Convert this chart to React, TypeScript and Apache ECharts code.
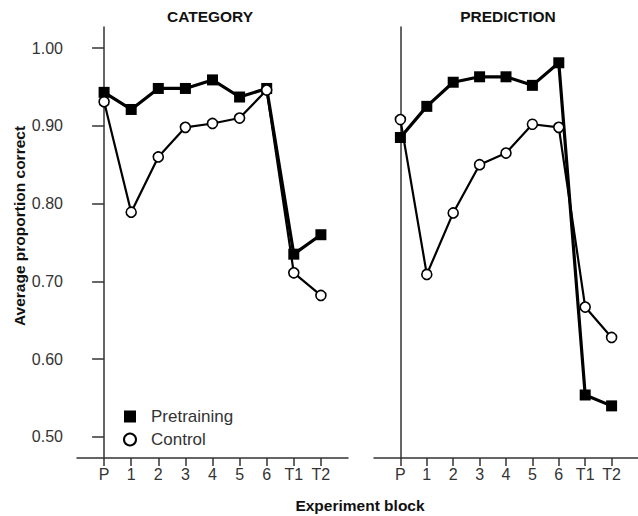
import React, { useEffect, useRef } from "react";
import * as echarts from "echarts";

const blocks = ["P", "1", "2", "3", "4", "5", "6", "T1", "T2"];
const yTicks = [0.5, 0.6, 0.7, 0.8, 0.9, 1.0];
const panelTitles = ["CATEGORY", "PREDICTION"];

const categoryPretraining = [0.943, 0.921, 0.948, 0.948, 0.959, 0.937, 0.948, 0.735, 0.76];
const categoryControl = [0.931, 0.789, 0.86, 0.898, 0.903, 0.91, 0.946, 0.711, 0.682];
const predictionPretraining = [0.885, 0.925, 0.956, 0.963, 0.963, 0.952, 0.981, 0.554, 0.54];
const predictionControl = [0.908, 0.709, 0.788, 0.85, 0.865, 0.902, 0.898, 0.667, 0.628];

const FONT = "'Liberation Sans', Arial, sans-serif";
const AXIS_COLOR = "#333";
const TEXT_COLOR = "#333";

function toPairs(values: number[]) {
  return values.map((v, i) => [i, v]);
}

export default function App() {
  const ref = useRef<HTMLDivElement>(null);

  useEffect(() => {
    if (!ref.current) return;
    const chart = echarts.init(ref.current, null, { renderer: "svg" });

    const tickIdx = blocks.map((_, i) => i);

    const makeX = (gridIndex: number) => ({
      type: "value",
      gridIndex,
      min: -1,
      max: 9,
      axisLine: { show: true, lineStyle: { color: AXIS_COLOR, width: 1.5 } },
      axisTick: {
        show: true,
        customValues: tickIdx,
        length: 8,
        inside: false,
        lineStyle: { color: AXIS_COLOR, width: 1.5 },
      },
      axisLabel: {
        customValues: tickIdx,
        formatter: (v: number) => blocks[Math.round(v)] ?? "",
        margin: 8,
        fontFamily: FONT,
        fontSize: 16,
        color: TEXT_COLOR,
      },
      splitLine: { show: false },
    });

    const makeY = (gridIndex: number, showLabels: boolean) => ({
      type: "value",
      gridIndex,
      min: 0.473,
      max: 1.027,
      axisLine: { show: true, lineStyle: { color: AXIS_COLOR, width: 1.5 } },
      axisTick: {
        show: showLabels,
        customValues: yTicks,
        length: 12,
        lineStyle: { color: AXIS_COLOR, width: 1.5 },
      },
      axisLabel: {
        show: showLabels,
        customValues: yTicks,
        formatter: (v: number) => v.toFixed(2),
        margin: 14,
        fontFamily: FONT,
        fontSize: 16,
        color: TEXT_COLOR,
      },
      splitLine: { show: false },
    });

    const preStyle = (xi: number, data: number[]) => ({
      name: "Pretraining",
      type: "line",
      xAxisIndex: xi,
      yAxisIndex: xi,
      data: toPairs(data),
      symbol: "rect",
      symbolSize: 11,
      lineStyle: { color: "#000", width: 3.2 },
      itemStyle: { color: "#000" },
      z: 2,
    });
    const ctlStyle = (xi: number, data: number[]) => ({
      name: "Control",
      type: "line",
      xAxisIndex: xi,
      yAxisIndex: xi,
      data: toPairs(data),
      symbol: "circle",
      symbolSize: 10,
      showAllSymbol: true,
      lineStyle: { color: "#000", width: 2.2 },
      itemStyle: { color: "#fff", borderColor: "#000", borderWidth: 1.6 },
      z: 3,
    });

    const textEl = (text: string, x: number, y: number, rotation = 0) => ({
      type: "text",
      x,
      y,
      rotation,
      style: {
        text,
        fontFamily: FONT,
        fontWeight: "bold",
        fontSize: 15.5,
        fill: "#111",
        textAlign: "center",
        textVerticalAlign: "middle",
      },
    });

    chart.setOption({
      animation: false,
      backgroundColor: "#fff",
      grid: [
        { left: 77, top: 27, width: 271, height: 431 },
        { left: 374, top: 27, width: 270, height: 431 },
      ],
      xAxis: [makeX(0), makeX(1)],
      yAxis: [makeY(0, true), makeY(1, false)],
      legend: {
        orient: "vertical",
        left: 118,
        top: 403,
        itemWidth: 12,
        itemHeight: 12,
        itemGap: 6,
        textStyle: { fontFamily: FONT, fontSize: 17, color: TEXT_COLOR, padding: [0, 0, 0, 10] },
        data: [
          { name: "Pretraining", icon: "rect" },
          { name: "Control", icon: "circle" },
        ],
      },
      graphic: [
        textEl(panelTitles[0], 210, 16),
        textEl(panelTitles[1], 508, 16),
        textEl("Average proportion correct", 19, 226, Math.PI / 2),
        textEl("Experiment block", 360, 505),
      ],
      series: [
        preStyle(0, categoryPretraining),
        ctlStyle(0, categoryControl),
        preStyle(1, predictionPretraining),
        ctlStyle(1, predictionControl),
      ],
    });

    return () => chart.dispose();
  }, []);

  return (
    <div
      ref={ref}
      style={{ position: "absolute", left: 0, top: 0, width: 638, height: 516 }}
    />
  );
}
